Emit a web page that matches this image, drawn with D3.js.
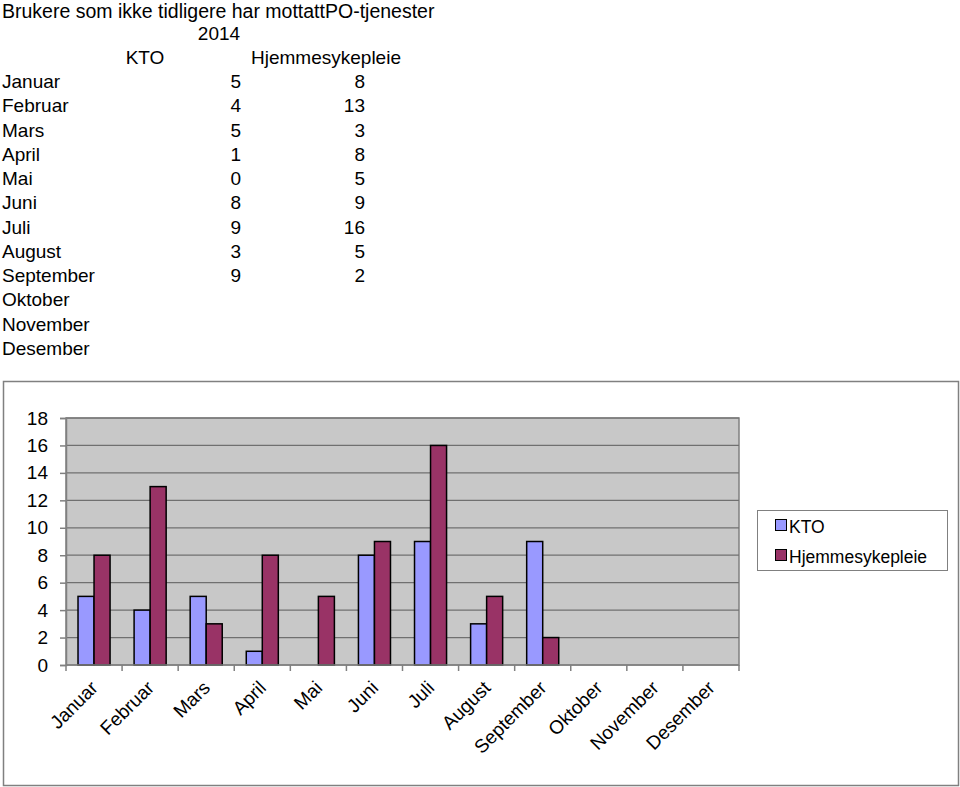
<!DOCTYPE html>
<html><head><meta charset="utf-8">
<script src="https://cdn.jsdelivr.net/npm/d3@7"></script>
<style>
html,body{margin:0;padding:0;background:#fff;}
svg{display:block;font-family:Arial,"Liberation Sans",sans-serif;}
</style></head>
<body>
<svg id="c" width="960" height="787"></svg>
<script>
const title = "Brukere som ikke tidligere har mottattPO-tjenester";
const year = "2014";
const months = ["Januar","Februar","Mars","April","Mai","Juni","Juli","August","September","Oktober","November","Desember"];
const seriesNames = ["KTO","Hjemmesykepleie"];
const kto = [5,4,5,1,0,8,9,3,9,null,null,null];
const hjemme = [8,13,3,8,5,9,16,5,2,null,null,null];
const yTicks = [0,2,4,6,8,10,12,14,16,18];
const colors = ["#9999FF","#993366"];

const svg = d3.select("#c");
const fs = 19;

// Table section
svg.append("text").attr("x",2).attr("y",18).attr("font-size",19.5).text(title);
svg.append("text").attr("x",219).attr("y",40).attr("text-anchor","middle").attr("font-size",fs).text(year);
svg.append("text").attr("x",145).attr("y",64).attr("text-anchor","middle").attr("font-size",fs).text(seriesNames[0]);
svg.append("text").attr("x",326).attr("y",64).attr("text-anchor","middle").attr("font-size",fs).text(seriesNames[1]);
const rowY = d3.scaleLinear().domain([0,11]).range([88,355]);
months.forEach((m,i)=>{
  const yy = rowY(i);
  svg.append("text").attr("x",2).attr("y",yy).attr("font-size",fs).text(m);
  if (kto[i]!=null) svg.append("text").attr("x",241).attr("y",yy).attr("text-anchor","end").attr("font-size",fs).text(kto[i]);
  if (hjemme[i]!=null) svg.append("text").attr("x",365).attr("y",yy).attr("text-anchor","end").attr("font-size",fs).text(hjemme[i]);
});

// Chart frame
svg.append("rect").attr("x",3.5).attr("y",381.5).attr("width",955).attr("height",404)
  .attr("fill","#fff").attr("stroke","#808080").attr("stroke-width",1.5);

const plot = {x0:66, x1:739, y0:418, y1:665};
const x = d3.scaleBand().domain(months).range([plot.x0, plot.x1]);
const y = d3.scaleLinear().domain([0,18]).range([plot.y1, plot.y0]);

svg.append("rect").attr("x",plot.x0).attr("y",plot.y0).attr("width",plot.x1-plot.x0).attr("height",plot.y1-plot.y0)
  .attr("fill","#C8C8C8").attr("stroke","#808080").attr("stroke-width",1.5);

// gridlines
svg.append("g").selectAll("line").data(yTicks.filter(t=>t>0)).join("line")
  .attr("x1",plot.x0).attr("x2",plot.x1).attr("y1",d=>y(d)).attr("y2",d=>y(d))
  .attr("stroke","#707070").attr("stroke-width",1.2);

// bars
const bw = x.bandwidth();
const barW = bw*16/56;
const inner = d3.scaleBand().domain([0,1]).range([0, barW*2]);
const data = [kto, hjemme];
data.forEach((ser,si)=>{
  svg.append("g").selectAll("rect").data(months.map((m,i)=>({m,v:ser[i]})).filter(d=>d.v!=null && d.v>0)).join("rect")
    .attr("x",d=>x(d.m)+ (bw-barW*2)/2 + inner(si))
    .attr("y",d=>y(d.v)).attr("width",barW).attr("height",d=>y(0)-y(d.v))
    .attr("fill",colors[si]).attr("stroke","#000").attr("stroke-width",1.5);
});

// y axis
const yAxis = d3.axisLeft(y).tickValues(yTicks).tickSize(6).tickPadding(12);
const gy = svg.append("g").attr("transform",`translate(${plot.x0},0)`).call(yAxis);
gy.select(".domain").attr("stroke","#808080").attr("stroke-width",1.5);
gy.selectAll(".tick line").attr("stroke","#808080").attr("stroke-width",1.5);
gy.selectAll(".tick text").attr("font-size",fs).attr("font-family","Arial,'Liberation Sans',sans-serif").attr("fill","#000");

// x axis
const xTickPos = months.map(m=>x(m)).concat([plot.x1]);
svg.append("line").attr("x1",plot.x0).attr("x2",plot.x1).attr("y1",plot.y1).attr("y2",plot.y1).attr("stroke","#808080").attr("stroke-width",1.5);
svg.append("g").selectAll("line").data(xTickPos).join("line")
  .attr("x1",d=>d).attr("x2",d=>d).attr("y1",plot.y1).attr("y2",plot.y1+6)
  .attr("stroke","#808080").attr("stroke-width",1.5);
svg.append("g").selectAll("text").data(months).join("text")
  .attr("transform",d=>`translate(${x(d)+bw/2+5},${plot.y1+24}) rotate(-45)`)
  .attr("text-anchor","end").attr("font-size",fs).text(d=>d);

// legend
const lg = svg.append("g");
lg.append("rect").attr("x",757.5).attr("y",510.5).attr("width",190).attr("height",60)
  .attr("fill","#fff").attr("stroke","#808080").attr("stroke-width",1);
seriesNames.forEach((n,i)=>{
  const ly = 526 + i*30;
  lg.append("rect").attr("x",775.5).attr("y",ly-6.5).attr("width",11).attr("height",11)
    .attr("fill",colors[i]).attr("stroke","#000").attr("stroke-width",1);
  lg.append("text").attr("x",789).attr("y",ly+7).attr("font-size",17.5).text(n);
});
</script>
</body></html>
